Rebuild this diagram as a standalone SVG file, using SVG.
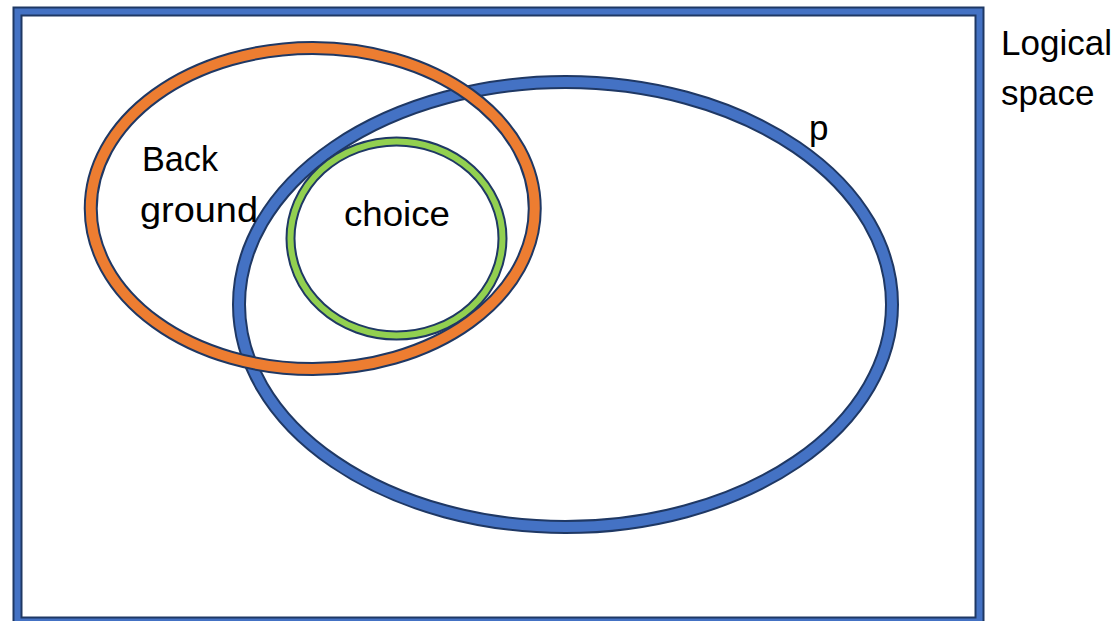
<svg xmlns="http://www.w3.org/2000/svg" width="1119" height="621" viewBox="0 0 1119 621">
<style>
.o{fill:none;stroke:#1f3864;}
.t{font-family:"Liberation Sans",Arial,sans-serif;font-size:35px;fill:#000;}
</style>
<rect width="1119" height="621" fill="#fff"/>
<g id="logical-space">
<rect class="o" x="17.5" y="11.5" width="962" height="610" stroke-width="10"/>
<rect x="17.5" y="11.5" width="962" height="610" fill="none" stroke="#4472c4" stroke-width="6"/>
<text class="t" x="1001" y="55">Logical</text>
<text class="t" x="1001" y="105">space</text>
</g>
<g id="p">
<ellipse class="o" cx="565.5" cy="304.5" rx="326.5" ry="222.5" stroke-width="14"/>
<ellipse cx="565.5" cy="304.5" rx="326.5" ry="222.5" fill="none" stroke="#4472c4" stroke-width="10"/>
<text class="t" x="809" y="140">p</text>
</g>
<g id="choice">
<ellipse class="o" cx="396.5" cy="238.5" rx="106" ry="97" stroke-width="10"/>
<ellipse cx="396.5" cy="238.5" rx="106" ry="97" fill="none" stroke="#92d050" stroke-width="6"/>
<text class="t" x="344" y="226" textLength="106" lengthAdjust="spacingAndGlyphs">choice</text>
</g>
<g id="background">
<ellipse class="o" cx="312.75" cy="208.5" rx="222" ry="160.5" stroke-width="14"/>
<ellipse cx="312.75" cy="208.5" rx="222" ry="160.5" fill="none" stroke="#ed7d31" stroke-width="10"/>
<text class="t" x="142" y="171" textLength="76" lengthAdjust="spacingAndGlyphs">Back</text>
<text class="t" x="140" y="222" textLength="118" lengthAdjust="spacingAndGlyphs">ground</text>
</g>
<g id="connectors"></g>
</svg>
